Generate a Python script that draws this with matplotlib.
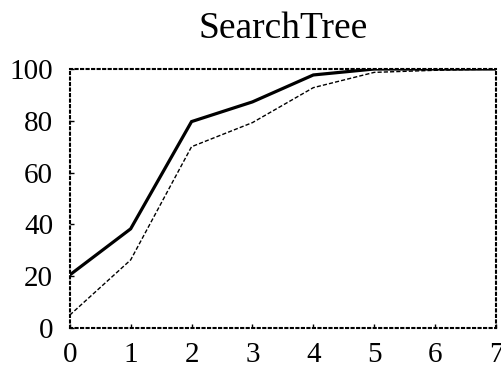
import matplotlib
matplotlib.use("Agg")
import matplotlib.pyplot as plt

plt.rcParams['font.family'] = ['Liberation Serif', 'DejaVu Serif']

x = [0, 1, 2, 3, 4, 5, 6, 7]
solid = [20.5, 38.3, 79.7, 87.3, 97.7, 100, 100, 100]
dashed = [5, 26.3, 70, 79.3, 92.8, 98.7, 99.5, 100]
xticks = [0, 1, 2, 3, 4, 5, 6, 7]
yticks = [0, 20, 40, 60, 80, 100]

fig = plt.figure(figsize=(5.02, 3.69), dpi=100)
ax = fig.add_axes([0.139, 0.111, 0.849, 0.702])
ax.plot(x, solid, color='black', linewidth=2.3, solid_joinstyle='miter')
ax.plot(x, dashed, color='black', linewidth=1.0, linestyle=(0, (3, 1.5)))
ax.set_xlim(0, 7)
ax.set_ylim(0, 100)
ax.set_xticks(xticks)
ax.set_yticks(yticks)
for s in ax.spines.values():
    s.set_linestyle(':')
    s.set_linewidth(1.5)
ax.tick_params(direction='in', length=3, width=1, labelsize=21)
ax.tick_params(axis='y', pad=12)
ax.tick_params(axis='x', pad=10)
ax.set_title('SearchTree', fontsize=27, pad=22)
fig.savefig('out.png', dpi=100)
